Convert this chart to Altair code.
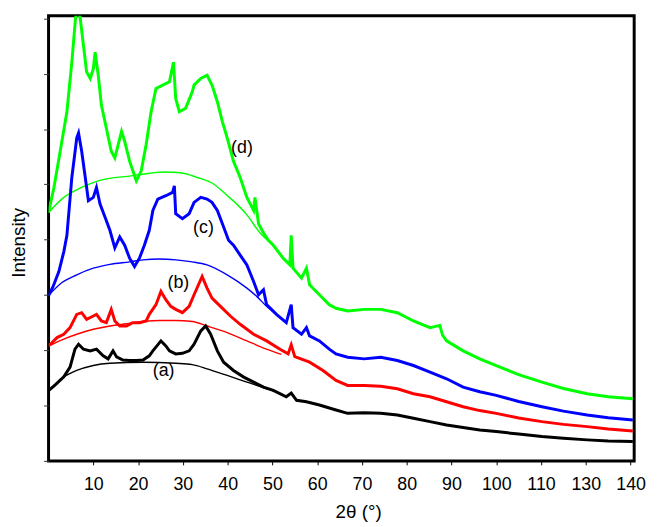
import altair as alt
import pandas as pd

# ---- measured curves (2θ in degrees, intensity in axis-tick units) ----
a_x = [0, 1.5, 3.4, 4.8, 5.9, 6.7, 7.8, 9.3, 10.7, 12.2, 13.3, 14.4, 15.2, 16.6, 18.1, 19.6, 21.1, 22.5, 23.3,
       25.1, 26.2, 27.0, 28.4, 29.9, 31.4, 32.5, 34.0, 35.1, 36.2, 37.7, 39.1, 41.3, 43.6, 45.8, 48.0, 50.2,
       53.1, 54.2, 55.4, 57.6, 60.5, 64.2, 66.8, 70.5, 74.2, 77.9, 81.5, 85.2, 88.9, 92.6, 96.3, 100, 105,
       110.2, 115, 120.3, 125, 130.5]
a_y = [2.54, 2.75, 3.04, 3.39, 4.04, 4.22, 4.04, 3.98, 4.04, 3.80, 3.69, 3.98, 3.76, 3.65, 3.63, 3.63, 3.65, 3.80, 3.98,
       4.34, 4.16, 3.98, 3.87, 3.89, 3.98, 4.22, 4.70, 4.88, 4.58, 3.98, 3.57, 3.27, 3.03, 2.85, 2.67, 2.55,
       2.32, 2.45, 2.19, 2.14, 2.02, 1.84, 1.72, 1.74, 1.72, 1.66, 1.54, 1.42, 1.30, 1.21, 1.12, 1.06, 0.97,
       0.88, 0.82, 0.76, 0.72, 0.70]

b_x = [0, 0.4, 1.9, 3.4, 4.8, 6.3, 7.4, 8.5, 10.0, 10.7, 11.8, 12.9, 14.0, 14.8, 15.9, 17.4, 18.8, 20.3, 21.8, 22.5,
       24.0, 25.1, 26.2, 27.3, 28.4, 29.9, 31.4, 32.5, 34.3, 35.4, 36.5, 38.4, 40.6, 42.8, 45.8, 48.7, 51.7,
       53.5, 54.2, 55.0, 58.3, 61.3, 64.2, 66.8, 70.5, 74.2, 77.9, 81.5, 85.2, 88.9, 92.6, 96.3, 100, 105,
       110.2, 115, 120.3, 125, 130.5]
b_y = [4.19, 4.22, 4.46, 4.58, 4.82, 5.30, 5.36, 5.12, 5.24, 5.30, 5.06, 5.00, 5.48, 5.06, 4.88, 4.88, 5.00, 5.00, 5.06, 5.30,
       5.65, 6.13, 5.83, 5.59, 5.48, 5.36, 5.59, 6.01, 6.67, 6.25, 5.89, 5.59, 5.24, 4.94, 4.58, 4.34, 4.04,
       3.87, 4.20, 3.77, 3.57, 3.27, 2.91, 2.73, 2.73, 2.70, 2.61, 2.43, 2.32, 2.14, 1.96, 1.82, 1.72, 1.55,
       1.42, 1.32, 1.24, 1.15, 1.08]

c_x = [0, 1.0, 2.3, 3.4, 4.1, 5.2, 6.3, 6.7, 7.4, 8.2, 8.9, 10.0, 10.7, 11.5, 12.6, 13.7, 14.8, 15.9, 17.0, 18.1,
       19.2, 20.3, 21.4, 22.5, 23.3, 24.4, 26.2, 27.7, 28.1, 28.4, 29.9, 31.4, 32.5, 34.0, 35.4, 36.5, 37.7,
       39.1, 40.2, 41.3, 42.8, 44.3, 45.8, 46.9, 48.0, 48.7, 50.9, 53.1, 54.2, 54.6, 56.5, 57.6, 58.3, 60.5,
       62.7, 64.2, 66.8, 70.5, 74.2, 77.9, 81.5, 85.2, 88.9, 92.6, 96.3, 100, 105, 110.2, 115, 120.3, 125, 130.5]
c_y = [5.98, 6.30, 6.85, 7.56, 8.16, 10.25, 11.68, 11.86, 11.20, 10.25, 9.41, 9.53, 9.89, 9.29, 8.82, 8.34, 7.70, 8.10, 7.80, 7.33,
       7.03, 7.33, 7.80, 8.34, 9.06, 9.47, 9.59, 9.71, 9.95, 8.94, 8.76, 8.94, 9.35, 9.53, 9.47, 9.35, 9.06,
       8.46, 7.98, 7.80, 7.44, 7.09, 6.49, 6.01, 6.19, 5.65, 5.30, 5.00, 5.65, 4.82, 4.58, 4.82, 4.52, 4.34,
       4.04, 3.87, 3.75, 3.69, 3.75, 3.63, 3.45, 3.21, 2.97, 2.67, 2.50, 2.37, 2.15, 1.96, 1.80, 1.66, 1.56, 1.48]

d_x = [0, 1.2, 2.6, 4.1, 5.2, 6.0, 6.5, 7.1, 7.8, 8.5, 9.3, 10.0, 10.4, 11.1, 11.8, 12.9, 14.0, 14.8, 16.3, 17.0,
       18.1, 19.6, 20.7, 21.8, 22.9, 24.0, 25.5, 27.0, 27.9, 28.4, 29.2, 30.6, 32.1, 32.5, 34.0, 35.4, 36.5,
       37.7, 38.8, 39.9, 41.3, 42.8, 44.3, 45.8, 46.1, 46.9, 48.0, 49.1, 50.2, 52.4, 53.9, 54.2, 54.6, 56.5,
       57.6, 58.3, 60.5, 62.7, 64.2, 66.8, 70.5, 74.2, 77.9, 81.5, 85.2, 87.4, 88.0, 88.9, 92.6, 96.3, 100,
       105, 110.2, 115, 120.3, 125, 130.5]
d_y = [8.98, 9.89, 11.20, 12.63, 14.42, 15.97, 16.5, 15.97, 15.02, 14.07, 13.83, 14.18, 14.78, 13.95, 12.87, 12.04, 11.20, 10.96, 11.92, 11.56,
       10.84, 10.13, 10.49, 11.44, 12.63, 13.47, 13.59, 13.71, 14.42, 13.11, 12.63, 12.75, 13.35, 13.59, 13.83, 13.95, 13.59,
       12.99, 12.28, 11.68, 10.84, 10.25, 9.53, 9.06, 9.53, 8.58, 8.25, 7.98, 7.80, 7.33, 7.09, 8.16, 6.97, 6.61,
       6.97, 6.37, 6.01, 5.65, 5.52, 5.42, 5.48, 5.48, 5.36, 5.06, 4.82, 4.90, 4.55, 4.34, 3.98, 3.69, 3.45,
       3.12, 2.85, 2.62, 2.43, 2.32, 2.25]

# ---- amorphous background arcs ----
ba_x = [0, 3.4, 6.3, 10.0, 13.7, 21.1, 28.4, 32.1, 35.4, 39.9, 44.3, 48.0, 52.0]
ba_y = [2.54, 3.03, 3.27, 3.45, 3.53, 3.57, 3.53, 3.48, 3.33, 3.09, 2.85, 2.65, 2.42]
bb_x = [0, 3.0, 6.3, 10.0, 13.7, 17.4, 21.1, 24.8, 28.4, 32.1, 35.4, 39.9, 44.3, 48.7, 52.0]
bb_y = [4.15, 4.38, 4.58, 4.76, 4.88, 4.96, 5.04, 5.08, 5.08, 5.04, 4.88, 4.64, 4.34, 4.04, 3.85]
bc_x = [0, 3.0, 6.3, 10.0, 13.7, 18.1, 21.1, 24.8, 28.4, 32.1, 35.4, 39.9, 44.3, 46.5, 48.7, 51.0]
bc_y = [5.98, 6.45, 6.73, 6.97, 7.11, 7.20, 7.27, 7.30, 7.27, 7.20, 7.09, 6.73, 6.25, 5.95, 5.59, 5.30]
bd_x = [0, 3.4, 7.4, 11.1, 18.5, 25.9, 29.5, 33.2, 36.5, 39.9, 44.3, 47.2, 49.5]
bd_y = [8.98, 9.53, 9.89, 10.13, 10.31, 10.45, 10.42, 10.25, 10.05, 9.60, 8.90, 8.25, 7.90]

series_names = ["a", "b", "c", "d"]
series_colors = ["#000000", "#ff0000", "#0000ff", "#00ff00"]

# ---- curve labels ----
label_text = ["(a)", "(b)", "(c)", "(d)"]
label_x = [25.7, 29.0, 34.6, 43.2]
label_y = [3.26, 6.44, 8.41, 11.31]

# ---- axis ticks ----
x_tick_pos = [10, 20, 30, 40, 50, 60, 70, 80, 90, 100, 110, 120, 130]
x_tick_lab = ["10", "20", "30", "40", "50", "60", "70", "80", "90", "100", "110", "130", "140"]
y_tick_pos = list(range(0, 17))

curves = [(a_x, a_y), (b_x, b_y), (c_x, c_y), (d_x, d_y)]
arcs = [(ba_x, ba_y), (bb_x, bb_y), (bc_x, bc_y), (bd_x, bd_y)]

rows = []
for name, (xs, ys) in zip(series_names, curves):
    for i, (x, y) in enumerate(zip(xs, ys)):
        rows.append({"s": name, "x": x, "y": y, "o": i})
curve_df = pd.DataFrame(rows)
rows = []
for name, (xs, ys) in zip(series_names, arcs):
    for i, (x, y) in enumerate(zip(xs, ys)):
        rows.append({"s": name, "x": x, "y": y, "o": i})
arc_df = pd.DataFrame(rows)
lab_df = pd.DataFrame({"t": label_text, "x": label_x, "y": label_y})

FONT = "Liberation Sans"
lab_map = "{" + ",".join(f"'{p}':'{l}'" for p, l in zip(x_tick_pos, x_tick_lab)) + "}"

xscale = alt.Scale(domain=[0, 130.8], nice=False, zero=False)
yscale = alt.Scale(domain=[0, 16.1], nice=False, zero=False)
color = alt.Color("s:N", scale=alt.Scale(domain=series_names, range=series_colors), legend=None)

xaxis = alt.Axis(values=x_tick_pos, labelExpr=f"{lab_map}[''+datum.value]", grid=False, domain=False,
                 tickColor="#000", tickSize=4, labelFont=FONT, labelFontSize=18, labelColor="#000",
                 labelPadding=11, labelOverlap=False, title="2θ (°)", titleFont=FONT, titleFontSize=19,
                 titleFontWeight="normal", titleColor="#000", titleX=313, titleY=51,
                 titleBaseline="middle", titleAlign="center")
yaxis = alt.Axis(values=y_tick_pos, labels=False, grid=False, domain=False, tickColor="#333", tickSize=5,
                 title="Intensity", titleFont=FONT, titleFontSize=19, titleFontWeight="normal",
                 titleColor="#000", titleX=-30, titleY=229, titleAngle=-90, titleBaseline="middle",
                 titleAlign="center")

base_x = alt.X("x:Q", scale=xscale, axis=xaxis)
base_y = alt.Y("y:Q", scale=yscale, axis=yaxis)

curve_layer = alt.Chart(curve_df).mark_line(strokeWidth=3, clip=True).encode(
    x=base_x, y=base_y, color=color, detail="s:N", order="o:Q")
arc_layer = alt.Chart(arc_df).mark_line(strokeWidth=1.4, interpolate="monotone", clip=True).encode(
    x="x:Q", y="y:Q", color=color, detail="s:N", order="o:Q")
text_layer = alt.Chart(lab_df).mark_text(font=FONT, fontSize=18, color="#000").encode(
    x="x:Q", y="y:Q", text="t:N")

chart = alt.layer(arc_layer, curve_layer, text_layer).properties(
    width=592, height=450,
    autosize=alt.AutoSizeParams(type="none"),
    padding={"left": 41, "top": 5, "right": 16, "bottom": 64},
    background="white",
).configure_view(stroke="#000", strokeWidth=3)

chart.save("out.html", embed_options={"renderer": "svg", "actions": False})
